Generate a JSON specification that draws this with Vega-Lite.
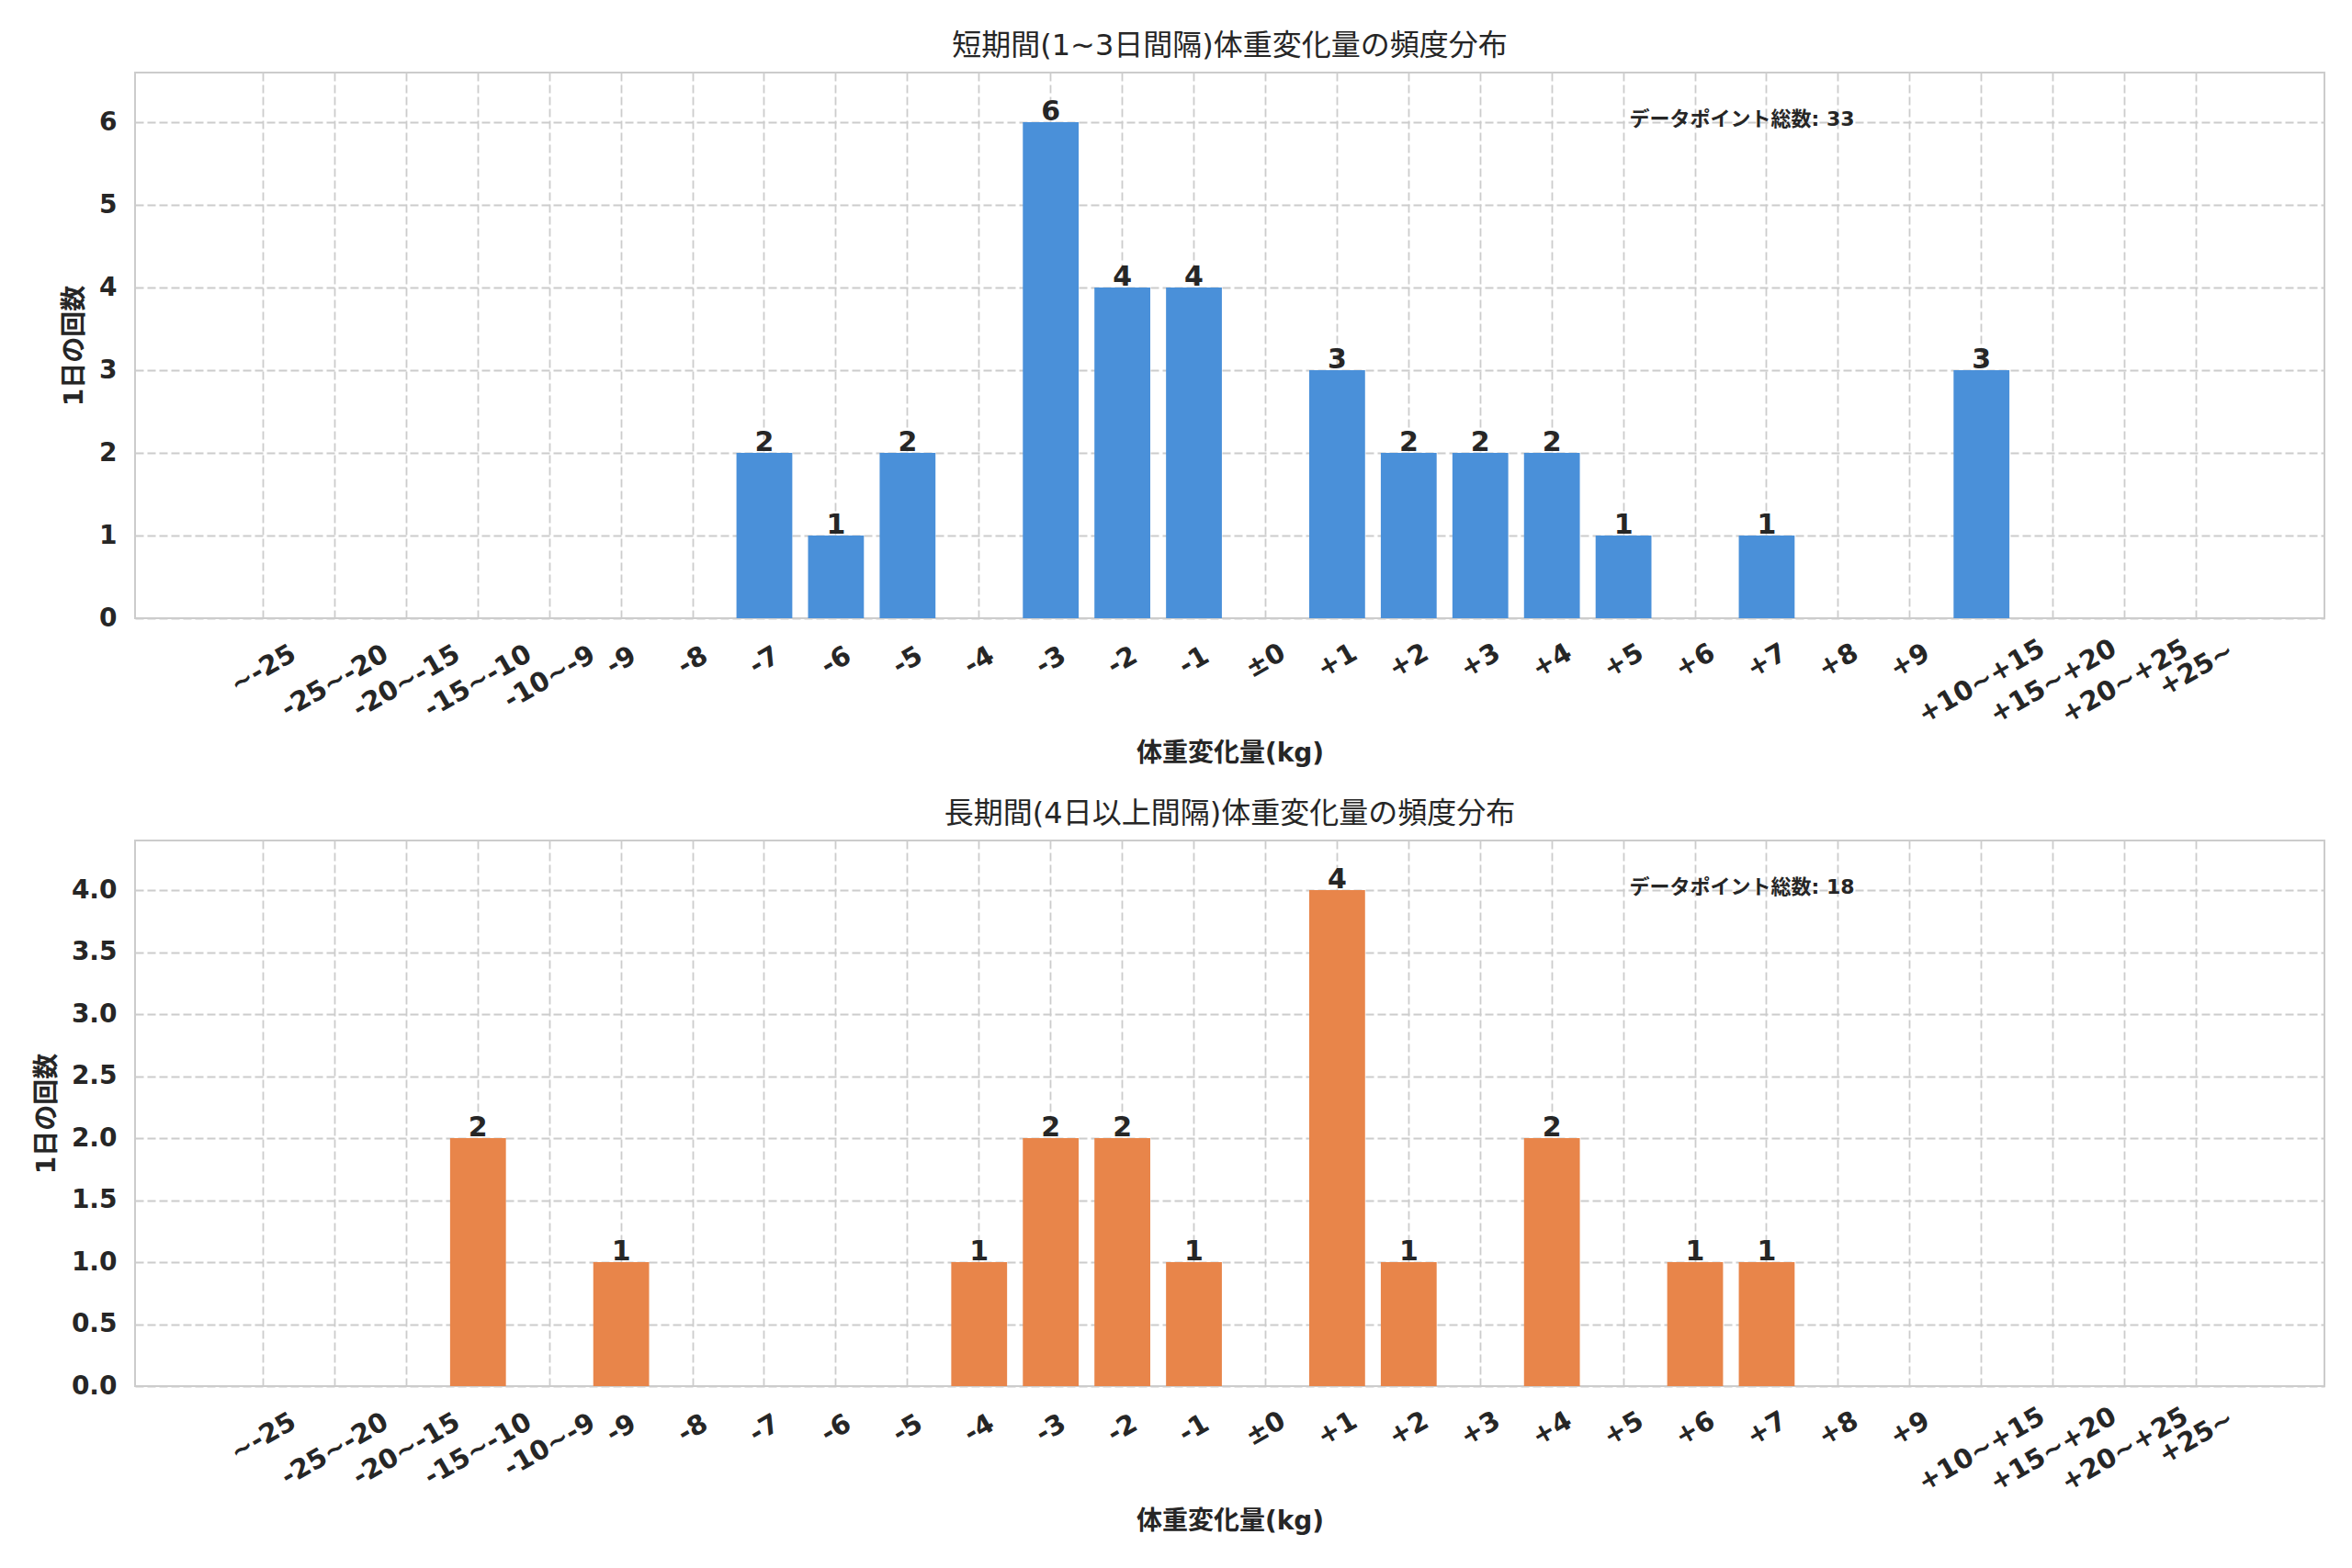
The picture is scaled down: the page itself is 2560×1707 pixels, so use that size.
{
  "$schema": "https://vega.github.io/schema/vega-lite/v6.json",
  "background": "white",
  "padding": {"left": 36, "top": 33, "right": 31, "bottom": 10},
  "spacing": 33,
  "config": {
    "font": "DejaVu Sans, Noto Sans CJK JP, sans-serif",
    "view": {"stroke": "#cccccc", "strokeWidth": 2},
    "title": {"fontSize": 32, "fontWeight": "normal", "color": "#262626", "offset": 12, "font": "DejaVu Sans, Noto Sans CJK JP, sans-serif"},
    "axis": {
      "domain": false,
      "ticks": false,
      "grid": true,
      "gridColor": "#cccccc",
      "gridDash": [9, 4],
      "gridWidth": 1.8,
      "labelFontSize": 28,
      "labelFontWeight": "bold",
      "labelColor": "#262626",
      "titleFontSize": 28,
      "titleFontWeight": "bold",
      "titleColor": "#262626",
      "labelFont": "DejaVu Sans, Noto Sans CJK JP, sans-serif",
      "titleFont": "DejaVu Sans, Noto Sans CJK JP, sans-serif"
    }
  },
  "vconcat": [
    {
      "title": "短期間(1~3日間隔)体重変化量の頻度分布",
      "width": 2383,
      "height": 594,
      "data": {"values": [
        {"bin": "-7", "count": 2}, {"bin": "-6", "count": 1}, {"bin": "-5", "count": 2},
        {"bin": "-3", "count": 6}, {"bin": "-2", "count": 4}, {"bin": "-1", "count": 4},
        {"bin": "+1", "count": 3}, {"bin": "+2", "count": 2}, {"bin": "+3", "count": 2},
        {"bin": "+4", "count": 2}, {"bin": "+5", "count": 1}, {"bin": "+7", "count": 1},
        {"bin": "+10~+15", "count": 3}
      ]},
      "encoding": {
        "x": {
          "field": "bin", "type": "nominal", "sort": null,
          "scale": {
            "domain": ["_lo", "~-25", "-25~-20", "-20~-15", "-15~-10", "-10~-9", "-9", "-8", "-7", "-6", "-5", "-4", "-3", "-2", "-1", "±0", "+1", "+2", "+3", "+4", "+5", "+6", "+7", "+8", "+9", "+10~+15", "+15~+20", "+20~+25", "+25~", "_hi"],
            "paddingInner": 0.22, "paddingOuter": 0.4
          },
          "axis": {
            "title": "体重変化量(kg)", "titlePadding": 14,
            "values": ["~-25", "-25~-20", "-20~-15", "-15~-10", "-10~-9", "-9", "-8", "-7", "-6", "-5", "-4", "-3", "-2", "-1", "±0", "+1", "+2", "+3", "+4", "+5", "+6", "+7", "+8", "+9", "+10~+15", "+15~+20", "+20~+25", "+25~"],
            "labelAngle": -30, "labelAlign": "center", "labelBaseline": "middle",
            "labelFontSize": 29,
            "labelPadding": {"expr": "37 + 4.5*length(datum.label)"},
            "labelOverlap": false, "labelBound": false, "labelFlush": false,
            "bandPosition": 0.5
          }
        },
        "y": {
          "field": "count", "type": "quantitative",
          "scale": {"domain": [0, 6.6], "nice": false, "zero": true},
          "axis": {"title": "1日の回数", "values": [0, 1, 2, 3, 4, 5, 6], "labelPadding": 20, "titlePadding": 12}
        }
      },
      "layer": [
        {"mark": {"type": "bar", "color": "#4A90D9"}},
        {"mark": {"type": "text", "baseline": "alphabetic", "dy": -2, "fontSize": 30, "fontWeight": "bold", "color": "#262626"},
         "encoding": {"text": {"field": "count", "type": "quantitative"}}},
        {"transform": [{"filter": "datum.bin == '+7'"}],
         "mark": {"type": "text", "align": "center", "baseline": "middle", "dx": -27, "fontSize": 22, "fontWeight": "bold", "color": "#262626"},
         "encoding": {"y": {"datum": 6.03}, "text": {"value": "データポイント総数: 33"}}}
      ]
    },
    {
      "title": "長期間(4日以上間隔)体重変化量の頻度分布",
      "width": 2383,
      "height": 594,
      "data": {"values": [
        {"bin": "-15~-10", "count": 2}, {"bin": "-9", "count": 1}, {"bin": "-4", "count": 1},
        {"bin": "-3", "count": 2}, {"bin": "-2", "count": 2}, {"bin": "-1", "count": 1},
        {"bin": "+1", "count": 4}, {"bin": "+2", "count": 1}, {"bin": "+4", "count": 2},
        {"bin": "+6", "count": 1}, {"bin": "+7", "count": 1}
      ]},
      "encoding": {
        "x": {
          "field": "bin", "type": "nominal", "sort": null,
          "scale": {
            "domain": ["_lo", "~-25", "-25~-20", "-20~-15", "-15~-10", "-10~-9", "-9", "-8", "-7", "-6", "-5", "-4", "-3", "-2", "-1", "±0", "+1", "+2", "+3", "+4", "+5", "+6", "+7", "+8", "+9", "+10~+15", "+15~+20", "+20~+25", "+25~", "_hi"],
            "paddingInner": 0.22, "paddingOuter": 0.4
          },
          "axis": {
            "title": "体重変化量(kg)", "titlePadding": 14,
            "values": ["~-25", "-25~-20", "-20~-15", "-15~-10", "-10~-9", "-9", "-8", "-7", "-6", "-5", "-4", "-3", "-2", "-1", "±0", "+1", "+2", "+3", "+4", "+5", "+6", "+7", "+8", "+9", "+10~+15", "+15~+20", "+20~+25", "+25~"],
            "labelAngle": -30, "labelAlign": "center", "labelBaseline": "middle",
            "labelFontSize": 29,
            "labelPadding": {"expr": "37 + 4.5*length(datum.label)"},
            "labelOverlap": false, "labelBound": false, "labelFlush": false,
            "bandPosition": 0.5
          }
        },
        "y": {
          "field": "count", "type": "quantitative",
          "scale": {"domain": [0, 4.4], "nice": false, "zero": true},
          "axis": {"title": "1日の回数", "values": [0, 0.5, 1, 1.5, 2, 2.5, 3, 3.5, 4], "format": ".1f", "labelPadding": 20, "titlePadding": 12}
        }
      },
      "layer": [
        {"mark": {"type": "bar", "color": "#E8854A"}},
        {"mark": {"type": "text", "baseline": "alphabetic", "dy": -2, "fontSize": 30, "fontWeight": "bold", "color": "#262626"},
         "encoding": {"text": {"field": "count", "type": "quantitative"}}},
        {"transform": [{"filter": "datum.bin == '+7'"}],
         "mark": {"type": "text", "align": "center", "baseline": "middle", "dx": -27, "fontSize": 22, "fontWeight": "bold", "color": "#262626"},
         "encoding": {"y": {"datum": 4.02}, "text": {"value": "データポイント総数: 18"}}}
      ]
    }
  ]
}
